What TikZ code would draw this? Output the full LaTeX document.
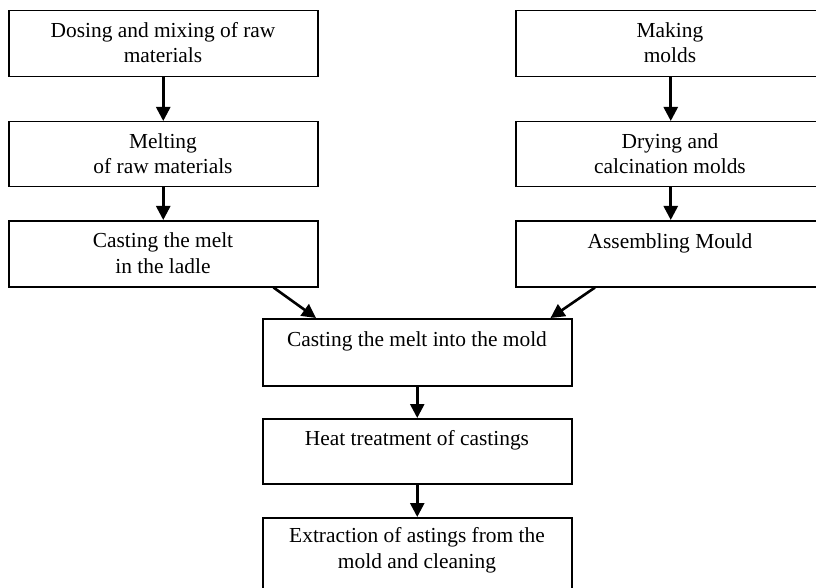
\documentclass[tikz,border=0pt]{standalone}
\usepackage{fontspec}
\setmainfont{Liberation Serif}
\usetikzlibrary{arrows.meta}
\begin{document}
\begin{tikzpicture}[x=1pt,y=-1pt,
  box/.style={draw, line width=1.5pt, anchor=north west, minimum width=309pt, inner sep=0pt},
  lbl/.style={anchor=base, align=center, inner sep=0pt, font=\fontsize{21.4}{25.8}\selectfont},
  arr/.style={line width=2.6pt, -{Triangle[width=14pt,length=14pt]}}]
\useasboundingbox (0,0) rectangle (816,588);
\clip (0,0) rectangle (816,588);
% left column
\node[box, minimum height=66pt] (a) at (8,10) {};
\node[box, minimum height=65pt] (b) at (8,121) {};
\node[box, minimum height=66pt] (c) at (8,220) {};
% right column
\node[box, minimum width=310pt, minimum height=66pt] (d) at (515,10) {};
\node[box, minimum width=310pt, minimum height=65pt] (e) at (515,121) {};
\node[box, minimum width=310pt, minimum height=66pt] (f) at (515,220) {};
% centre column
\node[box, minimum height=67pt] (g) at (262,318) {};
\node[box, minimum height=65pt] (h) at (262,418) {};
\node[box, minimum height=90pt] (i) at (262,517) {};
% labels (base anchor = baseline of the last line)
\node[lbl] (ta) at (163,63) {Dosing and mixing of raw\\materials};
\node[lbl] (tb) at (163,174) {Melting\\of raw materials};
\node[lbl] (tc) at (163,273) {Casting the melt\\in the ladle};
\node[lbl] (td) at (670,63) {Making\\molds};
\node[lbl] (te) at (670,174) {Drying and\\calcination molds};
\node[lbl] (tf) at (670,248) {Assembling Mould};
\node[lbl] (tg) at (417,346) {Casting the melt into the mold};
\node[lbl] (th) at (417,445) {Heat treatment of castings};
\node[lbl] (ti) at (417,568) {Extraction of astings from the\\mold and cleaning};
% connectors
\draw[arr] (a.south) -- (b.north);
\draw[arr] (b.south) -- (c.north);
\draw[arr] (d.south) -- (e.north);
\draw[arr] (e.south) -- (f.north);
\draw[arr] ([xshift=-45pt]c.south east) -- ([xshift=54pt]g.north west);
\draw[arr] ([xshift=80pt]f.south west) -- ([xshift=-22pt]g.north east);
\draw[arr] (g.south) -- (h.north);
\draw[arr] (h.south) -- (i.north);
\end{tikzpicture}
\end{document}
